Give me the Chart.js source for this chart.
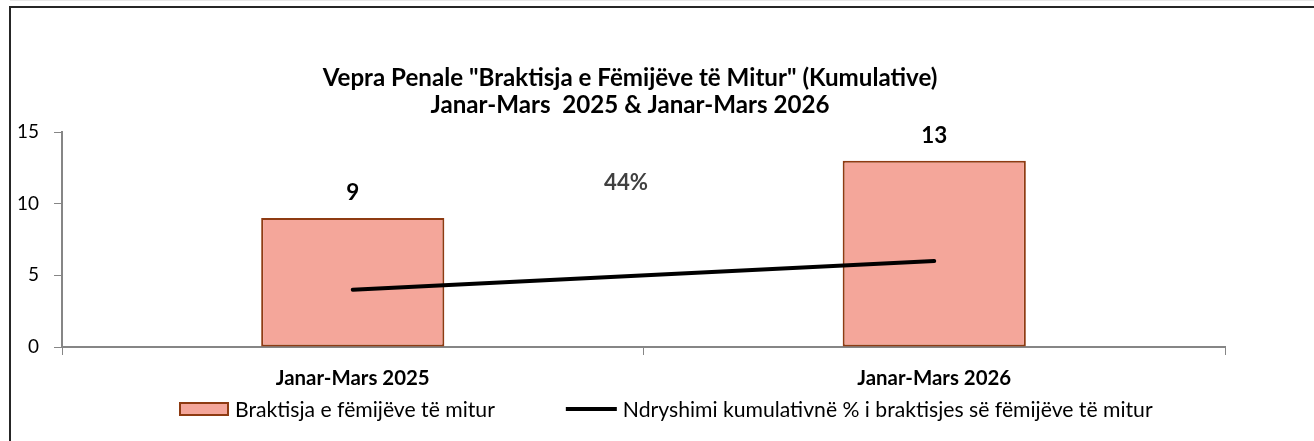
<!DOCTYPE html>
<html><head><meta charset="utf-8">
<script src="https://cdn.jsdelivr.net/npm/chart.js@4.4.1/dist/chart.umd.min.js"></script>
<style>html,body{margin:0;padding:0;background:#fff;overflow:hidden}#wrap{width:1314px;height:441px;position:relative}canvas{display:block}</style>
</head><body><div id="wrap"><canvas id="c" width="1314" height="441"></canvas></div>
<script>
// ---- data ----
const categories = ['Janar-Mars 2025', 'Janar-Mars 2026'];
const barValues = [9, 13];
const lineValues = [4, 6];
const changeLabel = '44%';
const yMin = 0, yMax = 15, yStep = 5;
const titleLines = ['Vepra Penale "Braktisja e Fëmijëve të Mitur" (Kumulative)', 'Janar-Mars  2025 & Janar-Mars 2026'];
const seriesNames = ['Braktisja e fëmijëve të mitur', 'Ndryshimi kumulativnë % i braktisjes së fëmijëve të mitur'];

// ---- styling ----
const FAM = 'Lato, "Open Sans", "DejaVu Sans", sans-serif';
const mctx = document.createElement('canvas').getContext('2d');
function fit(text, weight, target) { mctx.font = weight + ' 100px ' + FAM; return 100 * target / mctx.measureText(text).width; }
const tickSize = fit('15', 'normal', 22);
const xLabSize = fit(categories[0], 'bold', 154);
const titleSize = fit(titleLines[0], 'bold', 615);
const legSize = fit(seriesNames[0], 'normal', 260);
const dlSize = fit('13', 'bold', 26);
const pctSize = fit(changeLabel, 'bold', 44);
const BAR_FILL = '#F4A69A', BAR_EDGE = '#8E3B12', AXIS = '#868686';

const deco = {
  id: 'deco',
  beforeDraw(chart) {
    const c = chart.ctx;
    c.save();
    c.fillStyle = '#fff'; c.fillRect(0, 0, chart.width, chart.height);
    c.fillStyle = '#e8e8e8'; c.fillRect(10, 0, chart.width - 10, 1);
    c.fillStyle = '#262626';
    c.fillRect(9, 6, chart.width - 9, 2);
    c.fillRect(9, 6, 2, chart.height - 6);
    c.restore();
  },
  afterDraw(chart) {
    const c = chart.ctx, xs = chart.scales.x, ys = chart.scales.y;
    c.save();
    // title
    c.fillStyle = '#000'; c.textAlign = 'center'; c.textBaseline = 'alphabetic';
    c.font = 'bold ' + titleSize + 'px ' + FAM;
    c.fillText(titleLines[0], 630, 86);
    c.fillText(titleLines[1], 630, 113);
    // data labels on bars
    c.font = 'bold ' + dlSize + 'px ' + FAM;
    chart.getDatasetMeta(0).data.forEach((bar, i) => {
      c.fillText(String(barValues[i]), bar.x, bar.y - 18);
    });
    // change label
    c.fillStyle = '#404040';
    c.font = 'bold ' + pctSize + 'px ' + FAM;
    c.fillText(changeLabel, xs.getPixelForValue(0.47), ys.getPixelForValue(10.95));
    // legend
    c.textAlign = 'left';
    c.font = legSize + 'px ' + FAM;
    let x = 179; const ly = 409;
    c.fillStyle = BAR_FILL; c.fillRect(x, ly - 7, 50, 14);
    c.strokeStyle = BAR_EDGE; c.lineWidth = 2; c.strokeRect(x + 1, ly - 6, 48, 12);
    x += 56;
    c.fillStyle = '#000';
    c.fillText(seriesNames[0], x, 417);
    x += c.measureText(seriesNames[0]).width + 71;
    c.strokeStyle = '#000'; c.lineWidth = 4; c.lineCap = 'butt';
    c.beginPath(); c.moveTo(x, ly); c.lineTo(x + 51, ly); c.stroke();
    x += 57;
    c.fillText(seriesNames[1], x, 417);
    c.restore();
  }
};

new Chart(document.getElementById('c').getContext('2d'), {
  data: {
    labels: categories,
    datasets: [
      { type: 'bar', label: seriesNames[0], data: barValues, backgroundColor: BAR_FILL, borderColor: BAR_EDGE,
        borderWidth: 2, borderSkipped: false, categoryPercentage: 1, barPercentage: 0.315, order: 2 },
      { type: 'line', label: seriesNames[1], data: lineValues, borderColor: '#000', backgroundColor: '#000',
        borderWidth: 4, pointRadius: 0, borderCapStyle: 'round', tension: 0, order: 1 }
    ]
  },
  options: {
    responsive: false, animation: false, devicePixelRatio: 1,
    layout: { padding: { left: 0, right: 89, top: 132, bottom: 0 } },
    plugins: { legend: { display: false }, title: { display: false }, tooltip: { enabled: false } },
    scales: {
      x: {
        offset: true,
        grid: { display: true, drawOnChartArea: false, drawTicks: true, tickLength: 8, tickColor: AXIS, tickWidth: 1, offset: true },
        border: { display: true, color: AXIS, width: 2 },
        ticks: { font: { family: FAM, size: xLabSize, weight: 'bold' }, color: '#000', padding: 11, maxRotation: 0 },
        afterFit(s) { s.height = 94; }
      },
      y: {
        min: yMin, max: yMax,
        grid: { display: true, drawOnChartArea: false, drawTicks: true, tickLength: 8, tickColor: AXIS, tickWidth: 1 },
        border: { display: true, color: AXIS, width: 2 },
        ticks: { stepSize: yStep, font: { family: FAM, size: tickSize }, color: '#000', padding: 15 },
        afterFit(s) { s.width = 62; }
      }
    }
  },
  plugins: [deco]
});
</script>
</body></html>
